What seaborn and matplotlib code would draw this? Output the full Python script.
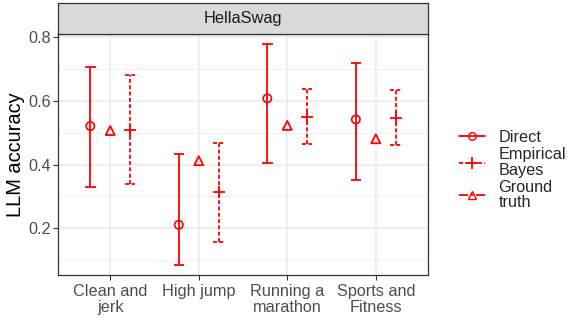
import numpy as np
import pandas as pd
import matplotlib
matplotlib.use("Agg")
import matplotlib.pyplot as plt
import seaborn as sns
from matplotlib.lines import Line2D
from matplotlib.ticker import MultipleLocator

# data
categories = ["Clean and\njerk", "High jump", "Running a\nmarathon", "Sports and\nFitness"]
direct_est = [0.521, 0.210, 0.608, 0.542]
direct_lo = [0.329, 0.084, 0.406, 0.350]
direct_hi = [0.707, 0.432, 0.778, 0.721]
eb_est = [0.510, 0.312, 0.550, 0.547]
eb_lo = [0.340, 0.155, 0.466, 0.462]
eb_hi = [0.681, 0.467, 0.637, 0.634]
truth = [0.507, 0.412, 0.523, 0.481]

sns.set_theme(style="white")
plt.rcParams['font.family'] = ['Liberation Sans', 'DejaVu Sans']

x = np.arange(len(categories))
dodge = 0.225
df = pd.DataFrame({
    'pos': np.concatenate([x - dodge, x, x + dodge]),
    'value': direct_est + truth + eb_est,
    'method': ['Direct'] * 4 + ['Ground truth'] * 4 + ['Empirical Bayes'] * 4,
})

fig = plt.figure(figsize=(5.7, 3.18), dpi=100)
ax = fig.add_axes([58/570, 1 - 275/318, 370/570, (275 - 34)/318])
strip = fig.add_axes([58/570, 1 - 34/318, 370/570, 31/318])

red = '#FF0000'
lw = 1.3
dash = (0, (2.2, 1.3))

# error bars
ax.vlines(x - dodge, direct_lo, direct_hi, color=red, lw=lw, zorder=3)
ax.hlines(direct_lo + direct_hi, np.tile(x - dodge, 2) - 0.06, np.tile(x - dodge, 2) + 0.06,
          color=red, lw=lw, zorder=3)
ax.vlines(x + dodge, eb_lo, eb_hi, color=red, lw=lw, linestyles=dash, zorder=3)
ax.hlines(eb_lo + eb_hi, np.tile(x + dodge, 2) - 0.06, np.tile(x + dodge, 2) + 0.06,
          color=red, lw=lw, linestyles=dash, zorder=3)

# points
sns.scatterplot(data=df[df.method == 'Direct'], x='pos', y='value', marker='o', s=36,
                facecolor='none', edgecolor=red, linewidth=1.2, ax=ax, zorder=4, legend=False)
sns.scatterplot(data=df[df.method == 'Ground truth'], x='pos', y='value', marker='^', s=42,
                facecolor='none', edgecolor=red, linewidth=1.3, ax=ax, zorder=4, legend=False)
sns.scatterplot(data=df[df.method == 'Empirical Bayes'], x='pos', y='value', marker='+', s=80,
                color=red, linewidth=1.3, ax=ax, zorder=4, legend=False)

ax.set_xlim(-0.59, 3.59)
ax.set_ylim(0.052, 0.811)
ax.set_xticks(x)
ax.set_xticklabels(categories, linespacing=1.08)
ax.yaxis.set_minor_locator(MultipleLocator(0.1))
ax.set_yticks([0.2, 0.4, 0.6, 0.8])
ax.set_yticklabels(['0.2', '0.4', '0.6', '0.8'])
ax.grid(which='major', color='#EBEBEB', lw=1.2, zorder=0)
ax.grid(which='minor', axis='y', color='#EBEBEB', lw=0.6, zorder=0)
ax.set_axisbelow(True)
ax.tick_params(axis='both', which='major', length=3.3, width=0.8, color='#333333',
               labelsize=11.7, labelcolor='#4D4D4D', pad=2, left=True, bottom=True)
ax.tick_params(axis='x', which='major', pad=3.5)
ax.tick_params(axis='y', which='minor', length=0)
for sp in ax.spines.values():
    sp.set_color('#333333')
    sp.set_linewidth(0.9)
ax.set_xlabel('')
ax.set_ylabel('LLM accuracy', fontsize=14.4, color='black', labelpad=2)

# facet strip
strip.set_facecolor('#D9D9D9')
strip.set_xticks([])
strip.set_yticks([])
for sp in strip.spines.values():
    sp.set_color('#333333')
    sp.set_linewidth(0.9)
strip.text(0.5, 0.5, 'HellaSwag', ha='center', va='center', fontsize=11.8, color='#1A1A1A',
           transform=strip.transAxes)

# legend
handles = [
    Line2D([], [], color=red, lw=lw, marker='o', markerfacecolor='none', markersize=5.5),
    Line2D([], [], color=red, lw=lw, ls=dash, marker='+', markersize=9, markeredgewidth=1.3),
    Line2D([], [], color=red, lw=lw, ls=(0, (5, 1.5, 1.5, 1.5)), marker='^', markerfacecolor='none', markersize=6),
]
labels = ['Direct', 'Empirical\nBayes', 'Ground\ntruth']
leg = fig.legend(handles, labels, loc='center left', bbox_to_anchor=(452/570, 1 - 170/318),
                 frameon=False, fontsize=11.7, handlelength=1.65, handletextpad=0.8,
                 labelspacing=0.15, borderaxespad=0)
for t in leg.get_texts():
    t.set_linespacing(1.0)

fig.savefig('out.png', dpi=100)
